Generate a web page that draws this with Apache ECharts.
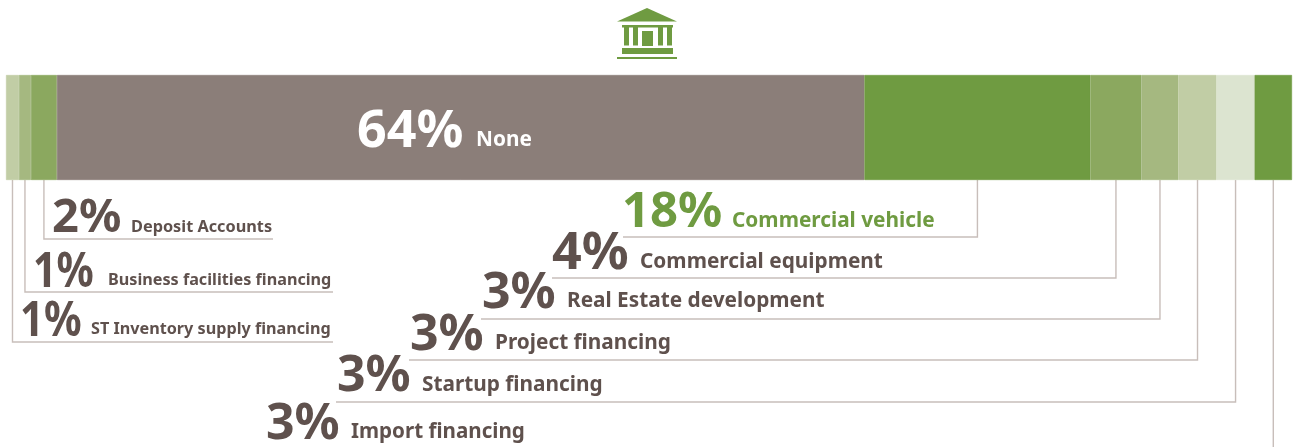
<!DOCTYPE html>
<html><head><meta charset="utf-8">
<style>html,body{margin:0;padding:0;background:#fff}#c{width:1298px;height:447px}</style>
<script src="https://cdn.jsdelivr.net/npm/echarts@6/dist/echarts.min.js"></script>
</head><body><div id="c"></div>
<script>
const categories = ['ST Inventory supply financing','Business facilities financing','Deposit Accounts','None','Commercial vehicle','Commercial equipment','Real Estate development','Project financing','Startup financing','Import financing'];
const values = [1.03,0.95,2.06,64.1,17.94,4.05,2.94,3.02,3.02,2.97];
const colors = ['#C1CDA5','#A5B880','#8BA85F','#8B7E79','#6F9B41','#8BA85F','#A5B880','#C1CDA5','#DCE4D0','#6F9B41'];
// annotation layout, one row per category:
// leader y, leader far x, big text x, big baseline, big size, big x-scale, small text x, small baseline, small size
const layout = [
 [342,333,20,336,48,0.87,91,334,16.2],
 [292,333,33,287,48,0.86,108,285,16.2],
 [239,273,52,232,47,1,131,232,16.3],
 null,
 [237,623,622,227,49,1,732,227,20.8],
 [278,552,552,269,52,1,640,268,20.8],
 [319,481,482,308,50,1,567,307,20.8],
 [360,409,410,350,50,1,495,349,20.8],
 [402,336,337,391,50,1,422,391,20.8],
 [460,1273,266,439,50,1,351,438,20.6]
];
const INK='#5F514D', GREEN='#6F9B41', RULE='#C8BEBA';
const FONT='"Noto Sans"';
const total = values.reduce((a,b)=>a+b,0);
const chart = echarts.init(document.getElementById('c'),null,{renderer:'canvas'});
chart.setOption({
  animation:false,
  grid:{left:6,top:75,width:1286,height:105},
  xAxis:{type:'value',min:0,max:total,show:false},
  yAxis:{type:'category',data:['Share'],show:false},
  series:categories.map((n,i)=>({type:'bar',name:n,stack:'s',barWidth:'100%',data:[values[i]],itemStyle:{color:colors[i],borderColor:colors[i],borderWidth:0.6},silent:true}))
});
function txt(x,base,s,size,color,sx){
  return {type:'text',z:10,x:x,y:base-size*0.29,scaleX:sx||1,silent:true,style:{text:s,x:0,y:0,fill:color,align:'left',verticalAlign:'middle',font:'700 '+size+'px '+FONT}};
}
const g=[];
let cum=0;
categories.forEach((n,i)=>{
  const mid=chart.convertToPixel({xAxisIndex:0},cum+values[i]/2);
  cum+=values[i];
  const pct=Math.round(values[i])+'%';
  const l=layout[i];
  if(!l){
    g.push(txt(357,147,pct,52,'#fff'));
    g.push(txt(476,146,n,20.8,'#fff'));
    return;
  }
  const c=n==='Commercial vehicle'?GREEN:INK;
  const pts=l[0]>447?[[mid,180],[mid,l[0]]]:[[mid,180],[mid,l[0]],[l[1],l[0]]];
  g.push({type:'polyline',z:1,silent:true,shape:{points:pts},style:{stroke:RULE,lineWidth:1.4,fill:null}});
  g.push(txt(l[2],l[3],pct,l[4],c,l[5]));
  g.push(txt(l[6],l[7],n,l[8],c));
});
// bank icon
const rect=(x,y,w,h)=>({type:'rect',silent:true,shape:{x,y,width:w,height:h},style:{fill:GREEN}});
g.push({type:'polygon',silent:true,shape:{points:[[617,21.5],[647,8],[677,21.5]]},style:{fill:GREEN}});
g.push(rect(622,25,51,2.5),rect(624,27,5,18.5),rect(633,27,5,18.5),rect(658,27,5,18.5),rect(667,27,5,18.5),rect(642,31,11,15),rect(622,48,51,6),rect(617,57,60,2));
chart.setOption({graphic:{elements:g}});
</script></body></html>
